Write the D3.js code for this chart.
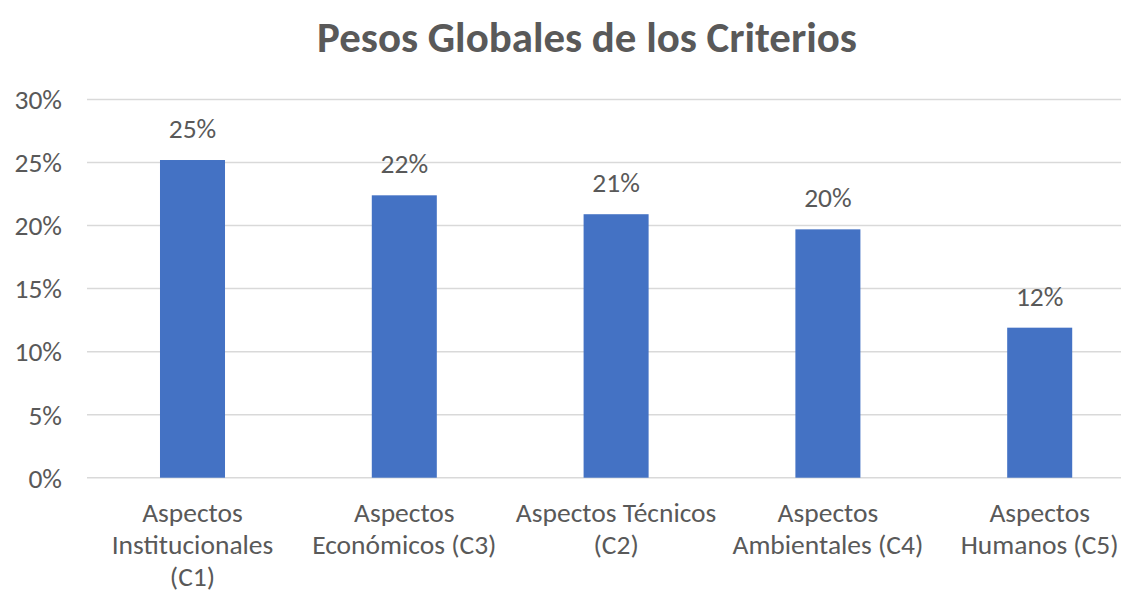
<!DOCTYPE html>
<html>
<head>
<meta charset="utf-8">
<script src="https://cdn.jsdelivr.net/npm/d3@7"></script>
<style>
  body { margin: 0; background: #fff; }
  svg { display: block; font-family: Carlito, "Open Sans", sans-serif; }
  .grid line { stroke: #d9d9d9; stroke-width: 1.5; }
  .txt { fill: #595959; }
</style>
</head>
<body>
<div id="chart"></div>
<script>
// Datos del gráfico
const titulo = 'Pesos Globales de los Criterios';
const categorias = [
  'Aspectos\nInstitucionales\n(C1)',
  'Aspectos\nEconómicos (C3)',
  'Aspectos Técnicos\n(C2)',
  'Aspectos\nAmbientales (C4)',
  'Aspectos\nHumanos (C5)'
];
const pesos = [0.252, 0.224, 0.209, 0.197, 0.119];
const ticksY = [0, 0.05, 0.10, 0.15, 0.20, 0.25, 0.30];

const width = 1121, height = 594;
const fs = 27.5;

const svg = d3.select('#chart')
  .append('svg')
  .attr('width', width)
  .attr('height', height);

// escalas (el área del gráfico sigue más allá del borde derecho)
const y = d3.scaleLinear().domain([0, 0.30]).range([477.7, 99.5]);
const x = d3.scaleBand()
  .domain(categorias)
  .range([86.6, 1145.6])
  .paddingInner(0.693)
  .paddingOuter(0.3465);

const pct = d3.format('.0%');

// título
const t = svg.append('text')
  .attr('class', 'txt')
  .attr('x', 587)
  .attr('y', 52)
  .attr('text-anchor', 'middle')
  .style('font-weight', 'bold')
  .style('font-size', '30px')
  .text(titulo);
// ajustar tamaño al ancho del original
const w0 = t.node().getComputedTextLength();
t.style('font-size', (30 * 540 / w0) + 'px');

// líneas de cuadrícula
svg.append('g')
  .attr('class', 'grid')
  .selectAll('line')
  .data(ticksY)
  .join('line')
  .attr('x1', 87)
  .attr('x2', width)
  .attr('y1', d => y(d))
  .attr('y2', d => y(d));

// eje Y (sin línea)
const ejeY = svg.append('g')
  .attr('transform', 'translate(70,0)')
  .call(d3.axisLeft(y).tickValues(ticksY).tickFormat(pct).tickSize(0).tickPadding(8));
ejeY.select('.domain').remove();
ejeY.selectAll('text')
  .attr('class', 'txt')
  .attr('fill', null)
  .attr('dy', '0.34em')
  .style('font-size', fs + 'px')
  .style('font-family', 'Carlito, "Open Sans", sans-serif');

// barras
svg.append('g')
  .selectAll('rect')
  .data(pesos)
  .join('rect')
  .attr('x', (d, i) => x(categorias[i]))
  .attr('width', x.bandwidth())
  .attr('y', d => y(d))
  .attr('height', d => y(0) - y(d))
  .attr('fill', '#4472c4');

// etiquetas de datos
svg.append('g')
  .selectAll('text')
  .data(pesos)
  .join('text')
  .attr('class', 'txt')
  .attr('x', (d, i) => x(categorias[i]) + x.bandwidth() / 2)
  .attr('y', d => y(d) - 22)
  .attr('text-anchor', 'middle')
  .style('font-size', fs + 'px')
  .text(d => pct(d));

// etiquetas de categorías
const cat = svg.append('g')
  .selectAll('text')
  .data(categorias)
  .join('text')
  .attr('class', 'txt')
  .attr('x', d => x(d) + x.bandwidth() / 2)
  .attr('y', 522)
  .attr('text-anchor', 'middle')
  .style('font-size', fs + 'px');
cat.selectAll('tspan')
  .data(d => d.split('\n'))
  .join('tspan')
  .attr('x', function() { return d3.select(this.parentNode).attr('x'); })
  .attr('dy', (d, i) => i === 0 ? 0 : 32)
  .text(d => d);
</script>
</body>
</html>
